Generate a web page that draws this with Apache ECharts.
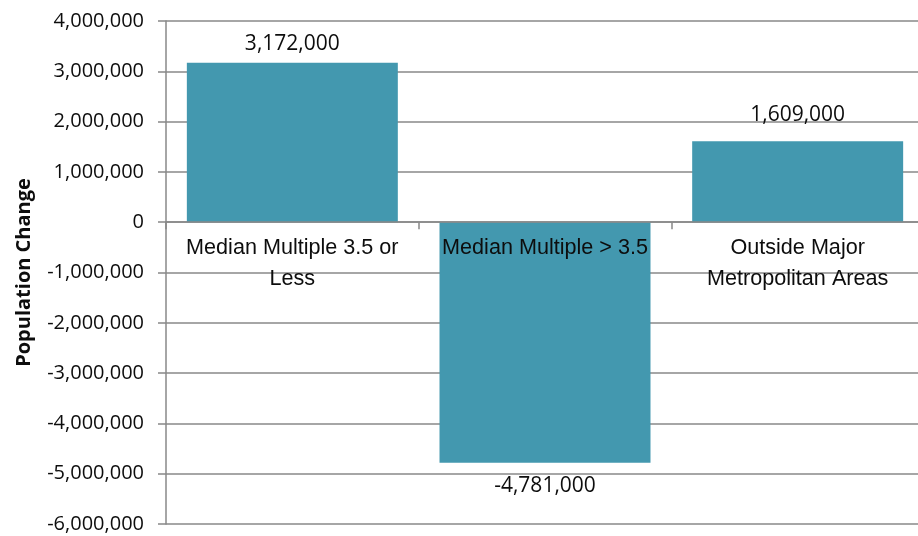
<!DOCTYPE html>
<html>
<head>
<meta charset="utf-8">
<script src="https://cdn.jsdelivr.net/npm/echarts@6/dist/echarts.min.js"></script>
<style>
html,body{margin:0;padding:0;background:#fff;}
#chart{width:918px;height:536px;}
</style>
</head>
<body>
<div id="chart"></div>
<script>
const categories = ['Median Multiple 3.5 or\nLess', 'Median Multiple > 3.5', 'Outside Major\nMetropolitan Areas'];
const populationChange = [3172000, -4781000, 1609000];
const yTicks = { min: -6000000, max: 4000000, interval: 1000000 };
const axisTitle = 'Population Change';

const fmt = v => Number(v).toLocaleString('en-US');
const labelDist = [8, 13, 16];

const chart = echarts.init(document.getElementById('chart'), null, {renderer: 'canvas'});
chart.setOption({
  animation: false,
  backgroundColor: '#ffffff',
  grid: { left: 166, right: -6, top: 21, bottom: 12, containLabel: false, outerBoundsMode: 'none' },
  xAxis: {
    type: 'category',
    data: categories,
    z: 5,
    axisLine: { onZero: true, lineStyle: { color: '#888888', width: 1.5 } },
    axisTick: { show: true, length: 7, lineStyle: { color: '#888888', width: 1.5 } },
    axisLabel: {
      color: '#0d0d0d',
      fontFamily: 'Liberation Sans',
      fontSize: 21.6,
      lineHeight: 31,
      margin: -291,
      interval: 0
    },
    splitLine: { show: false }
  },
  yAxis: {
    type: 'value',
    min: yTicks.min,
    max: yTicks.max,
    interval: yTicks.interval,
    name: axisTitle,
    nameLocation: 'middle',
    nameGap: 132,
    nameTextStyle: { fontFamily: 'Open Sans', fontWeight: 'bold', fontSize: 20, color: '#0d0d0d' },
    axisLine: { show: true, lineStyle: { color: '#888888', width: 1.5 } },
    axisTick: { show: true, length: 8, lineStyle: { color: '#888888', width: 1.5 } },
    axisLabel: {
      color: '#0d0d0d',
      fontFamily: 'Open Sans',
      fontSize: 20,
      margin: 22,
      formatter: fmt
    },
    splitLine: { show: true, lineStyle: { color: '#888888', width: 1.5 } }
  },
  series: [{
    type: 'bar',
    barCategoryGap: '16.5%',
    itemStyle: { color: '#4398af' },
    data: populationChange.map((v, i) => ({
      value: v,
      label: {
        show: true,
        position: v < 0 ? 'bottom' : 'top',
        distance: labelDist[i],
        formatter: p => fmt(p.value),
        fontFamily: 'Open Sans',
        fontSize: 21,
        color: '#0d0d0d'
      }
    }))
  }]
});
</script>
</body>
</html>
